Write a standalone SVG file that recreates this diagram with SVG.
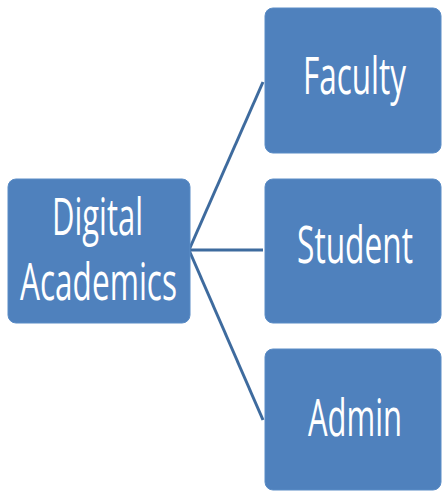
<svg xmlns="http://www.w3.org/2000/svg" width="442" height="491" viewBox="0 0 442 491">
<style>
.box{fill:#4f81bd;stroke:#5a8cc6;stroke-width:1}
.lbl{fill:#ffffff;font-family:"Open Sans","Liberation Sans",sans-serif;font-size:31.5px;text-anchor:middle}
.conn{stroke:#3e6b9e;stroke-width:3;fill:none;stroke-linecap:butt}
</style>
<rect width="442" height="491" fill="#ffffff"/>
<g id="connectors">
<line class="conn" x1="189" y1="250" x2="263" y2="82"/>
<line class="conn" x1="189" y1="250" x2="263" y2="250"/>
<line class="conn" x1="189" y1="250" x2="263" y2="420"/>
</g>
<g id="node-digital-academics">
<rect class="box" x="8" y="179" width="182" height="144" rx="8"/>
<text class="lbl" transform="translate(97.5,235) scale(1,1.6)" textLength="91" lengthAdjust="spacingAndGlyphs">Digital</text>
<text class="lbl" transform="translate(98.5,300) scale(1,1.6)" textLength="157" lengthAdjust="spacingAndGlyphs">Academics</text>
</g>
<g id="node-faculty">
<rect class="box" x="265" y="8" width="176" height="145" rx="8"/>
<text class="lbl" transform="translate(354.5,94) scale(1,1.6)" textLength="103" lengthAdjust="spacingAndGlyphs">Faculty</text>
</g>
<g id="node-student">
<rect class="box" x="265" y="179" width="176" height="144" rx="8"/>
<text class="lbl" transform="translate(355,263) scale(1,1.6)" textLength="116" lengthAdjust="spacingAndGlyphs">Student</text>
</g>
<g id="node-admin">
<rect class="box" x="265" y="349" width="176" height="141" rx="8"/>
<text class="lbl" transform="translate(355,436) scale(1,1.6)" textLength="94" lengthAdjust="spacingAndGlyphs">Admin</text>
</g>
</svg>
